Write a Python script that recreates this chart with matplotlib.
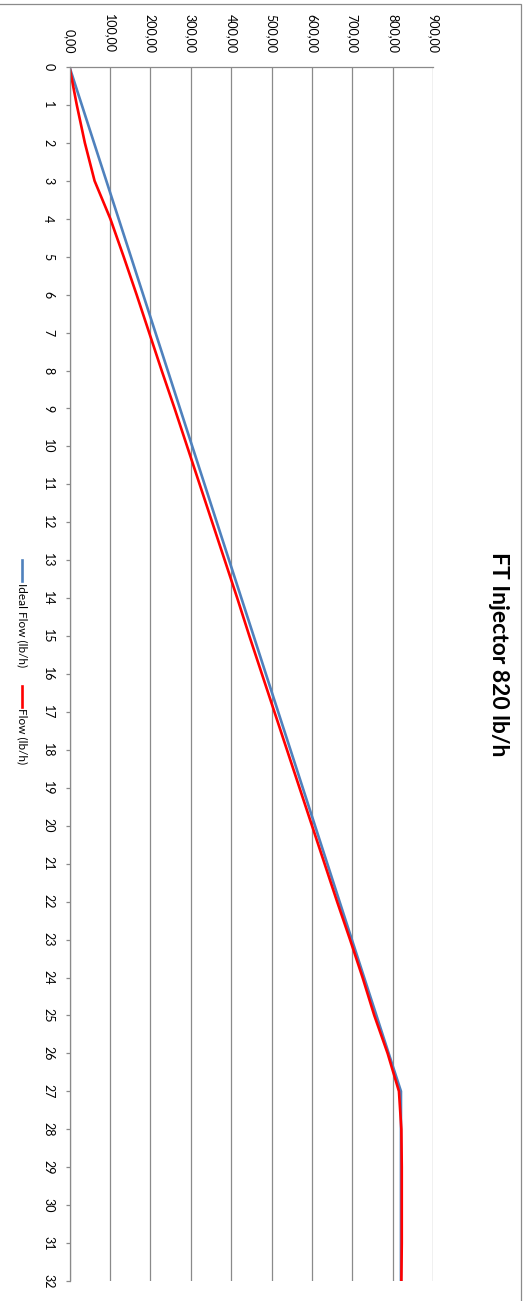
import matplotlib
matplotlib.use("Agg")
import matplotlib.pyplot as plt
from matplotlib.lines import Line2D
from matplotlib.patches import Rectangle

# Injector flow per step (chart is drawn turned a quarter turn clockwise)
steps = list(range(33))
ideal_flow = [0.0, 30.4, 60.7, 91.1, 121.5, 151.9, 182.2, 212.6, 243.0, 273.3,
              303.7, 334.1, 364.4, 394.8, 425.2, 455.6, 485.9, 516.3, 546.7, 577.0,
              607.4, 637.8, 668.1, 698.5, 728.9, 759.3, 789.6, 820.0, 820.0, 820.0,
              820.0, 820.0, 820.0]
flow = [0.0, 18.0, 38.0, 62.0, 101.0, 134.0, 166.0, 197.0, 228.0, 260.0,
        291.0, 322.0, 353.0, 384.0, 415.0, 445.0, 476.0, 507.0, 538.0, 569.0,
        600.0, 631.0, 662.0, 694.0, 725.0, 754.0, 787.0, 815.0, 821.0, 822.0,
        822.0, 822.0, 821.0]
value_ticks = [0, 100, 200, 300, 400, 500, 600, 700, 800, 900]
title = "FT Injector 820 lb/h"
series_names = ["Ideal Flow (lb/h)", "Flow (lb/h)"]

plt.rcParams["font.family"] = ["Lato", "DejaVu Sans"]
grey = "#8A8A8A"
blue = "#4F81BD"
red = "#FF0000"

W, H = 528, 1301
fig = plt.figure(figsize=(W / 100, H / 100), dpi=100)
x0, x1, y0, y1 = 69.5, 433.3, 67, 1281
ax = fig.add_axes([x0 / W, 1 - y1 / H, (x1 - x0) / W, (y1 - y0) / H])

ax.plot(ideal_flow, steps, color=blue, lw=1.9, solid_capstyle="butt")
ax.plot(flow, steps, color=red, lw=1.9, solid_capstyle="butt")

ax.set_xlim(0, 900)
ax.set_ylim(32, 0)
ax.xaxis.tick_top()
ax.set_xticks(value_ticks)
ax.set_xticklabels([f"{v:.2f}".replace(".", ",") for v in value_ticks],
                   rotation=-90, fontsize=9)
ax.set_yticks(steps)
ax.set_yticklabels([str(s) for s in steps], rotation=-90, fontsize=9,
                   va="center")
ax.tick_params(axis="x", length=0, pad=10)
ax.tick_params(axis="y", length=3, width=0.9, color=grey, pad=8)
ax.grid(axis="x", color=grey, lw=0.9)
for side in ["right", "bottom"]:
    ax.spines[side].set_visible(False)
for side in ["top", "left"]:
    ax.spines[side].set_color(grey)
    ax.spines[side].set_linewidth(0.9)

# title on the right, reading downward
fig.text(498 / W, 1 - 654 / H, title, rotation=-90, ha="center", va="center",
         fontsize=16.5, fontweight="bold")

# legend on the left, reading downward
lx = 22 / W
for (start, text_start), name, col in zip([(560, 583), (686, 708)],
                                          series_names, [blue, red]):
    fig.add_artist(Line2D([lx, lx], [1 - start / H, 1 - (start + 21) / H],
                          transform=fig.transFigure, color=col, lw=1.9))
    fig.text(lx, 1 - text_start / H, name, rotation=-90, ha="center",
             va="top", fontsize=8.5)

# chart area border
fig.add_artist(Rectangle((-0.02, -0.02), 521 / W + 0.02, 1 - 4 / H + 0.02,
                         transform=fig.transFigure, fill=False,
                         edgecolor=grey, lw=0.9))

fig.savefig("out.png", dpi=100)
